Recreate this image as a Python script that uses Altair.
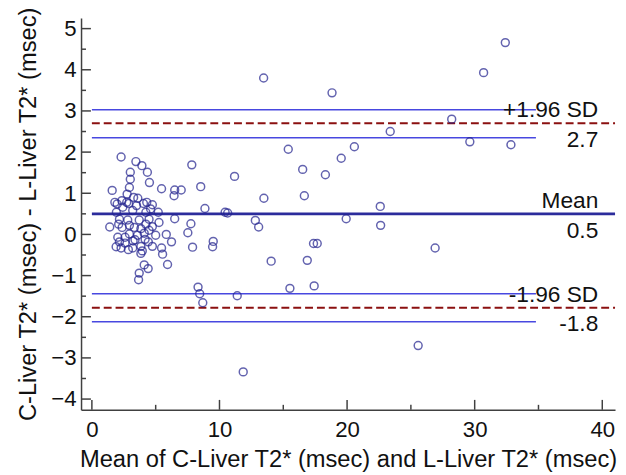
import altair as alt
import pandas as pd

# ---- data (Bland-Altman plot) ----
mean_vals = [
    13.46, 18.82, 15.39, 20.57, 19.54, 7.83, 16.52, 18.30, 11.18, 8.53, 13.48, 16.65, 8.86,
    10.44, 10.64, 22.6, 7.76, 7.52, 12.81, 13.07, 19.93, 22.63, 7.89, 9.51, 9.46, 17.37, 17.66,
    14.05, 16.88, 8.32, 8.45, 8.69, 11.39, 15.52, 17.42, 11.86, 32.4, 30.7, 28.2, 23.38, 29.62,
    32.84, 26.9, 25.57,
    2.29, 3.45, 3.92, 3.01, 4.35, 3.01, 4.51, 2.94, 1.59, 5.46, 6.49, 7.0, 2.76, 6.44, 1.80,
    1.98, 2.88, 3.27, 3.6, 4.04, 4.3, 4.74, 2.42, 3.2, 4.23, 1.92, 2.16, 2.81, 3.71, 4.48, 5.26,
    6.49, 1.4, 2.94, 2.37, 3.33, 3.84, 4.48, 5.0, 5.83, 2.03, 2.6, 3.38, 4.17, 4.42, 6.24, 1.9,
    2.6, 3.23, 3.84, 2.86, 3.2, 3.95, 5.46, 5.54, 3.84, 5.93, 4.1, 4.41, 3.71, 3.66,
    2.35, 2.73, 3.5, 4.6, 5.2, 2.1, 4.23, 4.74, 4.1, 2.94, 3.58, 2.16, 4.74, 2.29,
]
diff_vals = [
    3.80, 3.44, 2.07, 2.13, 1.85, 1.69, 1.58, 1.45, 1.41, 1.16, 0.88, 0.94, 0.63,
    0.54, 0.52, 0.68, 0.26, 0.04, 0.34, 0.18, 0.38, 0.22, -0.31, -0.17, -0.30, -0.22, -0.22,
    -0.65, -0.63, -1.28, -1.44, -1.66, -1.49, -1.31, -1.25, -3.34, 4.66, 3.93, 2.80, 2.50, 2.25,
    2.18, -0.33, -2.70,
    1.88, 1.77, 1.67, 1.51, 1.51, 1.34, 1.26, 1.14, 1.07, 1.11, 1.08, 1.08, 0.98, 0.94, 0.78,
    0.74, 0.75, 0.90, 0.88, 0.75, 0.78, 0.72, 0.66, 0.58, 0.54, 0.54, 0.37, 0.35, 0.35, 0.37, 0.29,
    0.38, 0.18, 0.22, 0.17, 0.17, 0.14, 0.10, -0.02, 0.00, -0.07, -0.07, -0.13, -0.12, -0.18, -0.18, -0.30,
    -0.21, -0.16, -0.29, -0.37, -0.33, -0.40, -0.33, -0.48, -0.46, -0.73, -0.74, -0.83, -0.94, -1.10,
    0.82, 0.78, 0.70, 0.62, 0.54, 0.25, 0.25, 0.19, 0.03, 0.01, -0.02, -0.18, -0.29, -0.33,
]

# reference lines
ci_y = [3.03, 2.35, -1.44, -2.12]          # thin blue confidence lines
ci_x_end = [34.8, 34.8, 34.8, 34.8]
loa_y = [2.7, -1.78]                        # dashed limits of agreement
mean_y = [0.5]

# annotation texts
above_text = ["+1.96 SD", "Mean", "-1.96 SD"]
below_text = ["2.7", "0.5", "-1.8"]
annot_y = [2.7, 0.5, -1.78]

# axis ticks
y_major = [-4, -3, -2, -1, 0, 1, 2, 3, 4, 5]
y_minor = [-3.5, -2.5, -1.5, -0.5, 0.5, 1.5, 2.5, 3.5, 4.5]
x_major = [0, 10, 20, 30, 40]
x_minor = [5, 15, 25, 35]

W, H = 541, 397
FONT = "Liberation Sans"
xdom = [-0.85, 41.0]
ydom = [-4.26, 5.26]

pts = pd.DataFrame({"m": mean_vals, "d": diff_vals})
xs = alt.Scale(domain=xdom, nice=False, zero=False)
ys = alt.Scale(domain=ydom, nice=False, zero=False)

xax = alt.Axis(values=x_major, ticks=False, tickSize=0, grid=False, labelFontSize=22.5,
               labelPadding=9, titleFontSize=24, titlePadding=7, labelFont=FONT,
               titleFont=FONT, titleFontWeight="normal", domainColor="#404040",
               domainWidth=1.5, labelColor="#111", titleColor="#111")
yax = alt.Axis(values=y_major, ticks=False, tickSize=0, grid=False, labelFontSize=22.5,
               labelPadding=5, titleFontSize=24, titlePadding=10, labelFont=FONT,
               titleFont=FONT, titleFontWeight="normal", domainColor="#404040",
               domainWidth=1.5, labelColor="#111", titleColor="#111")

points = alt.Chart(pts).mark_point(shape="circle", filled=False, size=64,
                                   strokeWidth=1.5, color="#22228e").encode(
    x=alt.X("m:Q", scale=xs, axis=xax,
            title="Mean of C-Liver T2* (msec) and L-Liver T2* (msec)"),
    y=alt.Y("d:Q", scale=ys, axis=yax,
            title="C-Liver T2* (msec) - L-Liver T2* (msec)"),
)

ci_df = pd.DataFrame({"y": ci_y, "x0": [0] * len(ci_y), "x1": ci_x_end})
ci = alt.Chart(ci_df).mark_rule(color="#4848e0", strokeWidth=1.4).encode(
    x=alt.X("x0:Q", scale=xs), x2="x1:Q", y=alt.Y("y:Q", scale=ys))

loa_df = pd.DataFrame({"y": loa_y, "x0": [0] * len(loa_y), "x1": [xdom[1]] * len(loa_y)})
loa = alt.Chart(loa_df).mark_rule(color="#8b1010", strokeWidth=2, strokeDash=[8, 4]).encode(
    x=alt.X("x0:Q", scale=xs), x2="x1:Q", y=alt.Y("y:Q", scale=ys))

mean_df = pd.DataFrame({"y": mean_y, "x0": [0], "x1": [xdom[1]]})
mean_line = alt.Chart(mean_df).mark_rule(color="#2c2c9c", strokeWidth=2.6).encode(
    x=alt.X("x0:Q", scale=xs), x2="x1:Q", y=alt.Y("y:Q", scale=ys))

ann_df = pd.DataFrame({"above": above_text, "below": below_text, "y": annot_y})
txt_above = alt.Chart(ann_df).mark_text(align="right", baseline="middle", dy=-13,
                                        fontSize=23, font=FONT, color="#111").encode(
    x=alt.value(W - 17), y=alt.Y("y:Q", scale=ys), text="above:N")
txt_below = alt.Chart(ann_df).mark_text(align="right", baseline="middle", dy=17,
                                        fontSize=23, font=FONT, color="#111").encode(
    x=alt.value(W - 17), y=alt.Y("y:Q", scale=ys), text="below:N")

# inward ticks
yt_major = alt.Chart(pd.DataFrame({"v": y_major})).mark_rule(color="#404040", strokeWidth=1.5).encode(
    y=alt.Y("v:Q", scale=ys), x=alt.value(0), x2=alt.value(10))
yt_minor = alt.Chart(pd.DataFrame({"v": y_minor})).mark_rule(color="#404040", strokeWidth=1.5).encode(
    y=alt.Y("v:Q", scale=ys), x=alt.value(0), x2=alt.value(5))
xt_major = alt.Chart(pd.DataFrame({"v": x_major})).mark_rule(color="#404040", strokeWidth=1.5).encode(
    x=alt.X("v:Q", scale=xs), y=alt.value(H), y2=alt.value(H - 10))
xt_minor = alt.Chart(pd.DataFrame({"v": x_minor})).mark_rule(color="#404040", strokeWidth=1.5).encode(
    x=alt.X("v:Q", scale=xs), y=alt.value(H), y2=alt.value(H - 5))

chart = alt.layer(
    ci, loa, mean_line, points, txt_above, txt_below,
    yt_major, yt_minor, xt_major, xt_minor,
).properties(
    width=W, height=H,
    autosize=alt.AutoSizeParams(type="none"),
    padding={"left": 74, "top": 7, "right": 3, "bottom": 60},
    background="white",
).configure_view(stroke=None)

chart.save("out.html", embed_options={"renderer": "svg", "actions": False})
